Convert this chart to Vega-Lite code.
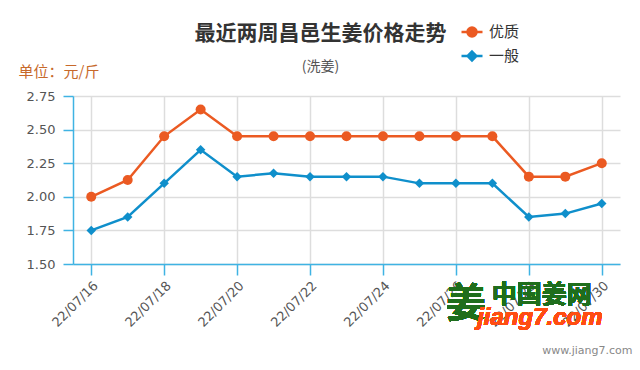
{
  "$schema": "https://vega.github.io/schema/vega-lite/v6.json",
  "autosize": {"type": "none"},
  "width": 547,
  "height": 168,
  "padding": {"left": 73, "top": 96, "right": 20, "bottom": 106},
  "background": "#ffffff",
  "title": {
    "text": "最近两周昌邑生姜价格走势",
    "subtitle": "(洗姜)",
    "anchor": "middle",
    "frame": "group",
    "dx": -26,
    "offset": -54,
    "font": "Noto Sans CJK SC",
    "fontSize": 21,
    "fontWeight": "bold",
    "color": "#333333",
    "subtitleFont": "Noto Sans CJK SC",
    "subtitleFontSize": 14,
    "subtitleColor": "#555555",
    "subtitlePadding": 16
  },
  "data": {
    "values": [
      {"date": "22/07/16", "series": "优质", "price": 2.00},
      {"date": "22/07/17", "series": "优质", "price": 2.125},
      {"date": "22/07/18", "series": "优质", "price": 2.45},
      {"date": "22/07/19", "series": "优质", "price": 2.65},
      {"date": "22/07/20", "series": "优质", "price": 2.45},
      {"date": "22/07/21", "series": "优质", "price": 2.45},
      {"date": "22/07/22", "series": "优质", "price": 2.45},
      {"date": "22/07/23", "series": "优质", "price": 2.45},
      {"date": "22/07/24", "series": "优质", "price": 2.45},
      {"date": "22/07/25", "series": "优质", "price": 2.45},
      {"date": "22/07/26", "series": "优质", "price": 2.45},
      {"date": "22/07/27", "series": "优质", "price": 2.45},
      {"date": "22/07/28", "series": "优质", "price": 2.15},
      {"date": "22/07/29", "series": "优质", "price": 2.15},
      {"date": "22/07/30", "series": "优质", "price": 2.25},
      {"date": "22/07/16", "series": "一般", "price": 1.75},
      {"date": "22/07/17", "series": "一般", "price": 1.85},
      {"date": "22/07/18", "series": "一般", "price": 2.10},
      {"date": "22/07/19", "series": "一般", "price": 2.35},
      {"date": "22/07/20", "series": "一般", "price": 2.15},
      {"date": "22/07/21", "series": "一般", "price": 2.175},
      {"date": "22/07/22", "series": "一般", "price": 2.15},
      {"date": "22/07/23", "series": "一般", "price": 2.15},
      {"date": "22/07/24", "series": "一般", "price": 2.15},
      {"date": "22/07/25", "series": "一般", "price": 2.10},
      {"date": "22/07/26", "series": "一般", "price": 2.10},
      {"date": "22/07/27", "series": "一般", "price": 2.10},
      {"date": "22/07/28", "series": "一般", "price": 1.85},
      {"date": "22/07/29", "series": "一般", "price": 1.875},
      {"date": "22/07/30", "series": "一般", "price": 1.95}
    ]
  },
  "encoding": {
    "x": {
      "field": "date",
      "type": "ordinal",
      "sort": null,
      "scale": {"type": "point", "padding": 0.5},
      "axis": {
        "values": ["22/07/16", "22/07/18", "22/07/20", "22/07/22", "22/07/24", "22/07/26", "22/07/28", "22/07/30"],
        "labelAngle": -45,
        "labelFont": "DejaVu Sans",
        "labelFontSize": 13,
        "labelColor": "#555555",
        "labelPadding": 4,
        "tickSize": 11,
        "tickColor": "#3fb3e3",
        "tickWidth": 1.5,
        "domainColor": "#3fb3e3",
        "domainWidth": 1.5,
        "grid": true,
        "gridColor": "#dddddd",
        "gridWidth": 1.5,
        "title": "www.jiang7.com",
        "titleFont": "DejaVu Sans",
        "titleFontSize": 11,
        "titleFontWeight": "normal",
        "titleColor": "#888888",
        "titleAlign": "right",
        "titleAnchor": null,
        "titleX": 559,
        "titleY": 86,
        "titleBaseline": "middle"
      }
    },
    "y": {
      "field": "price",
      "type": "quantitative",
      "scale": {"domain": [1.5, 2.75], "zero": false, "nice": false},
      "axis": {
        "values": [1.5, 1.75, 2.0, 2.25, 2.5, 2.75],
        "format": ".2f",
        "labelFont": "DejaVu Sans",
        "labelFontSize": 13,
        "labelColor": "#555555",
        "labelPadding": 8,
        "tickSize": 10,
        "tickColor": "#3fb3e3",
        "tickWidth": 1.5,
        "domainColor": "#3fb3e3",
        "domainWidth": 1.5,
        "grid": true,
        "gridColor": "#dddddd",
        "gridWidth": 1.5,
        "title": "单位：元/斤",
        "titleFont": "Noto Sans CJK SC",
        "titleFontSize": 15,
        "titleFontWeight": "normal",
        "titleColor": "#c7692b",
        "titleAngle": 0,
        "titleAlign": "left",
        "titleAnchor": null,
        "titleBaseline": "middle",
        "titleX": -55,
        "titleY": -25
      }
    }
  },
  "layer": [
    {
      "mark": {"type": "line", "strokeWidth": 2.5},
      "encoding": {
        "color": {
          "field": "series",
          "type": "nominal",
          "scale": {"domain": ["优质", "一般"], "range": ["#eb5a22", "#0f8fcb"]},
          "legend": {
            "title": null,
            "orient": "none",
            "legendX": 387,
            "legendY": -76,
            "padding": 0,
            "symbolSize": 441,
            "symbolStrokeWidth": 2.5,
            "labelOffset": 5,
            "rowPadding": 2,
            "labelFont": "Noto Sans CJK SC",
            "labelFontSize": 15,
            "labelColor": "#333333",
            "encode": {
              "symbols": {
                "update": {
                  "shape": {"signal": "datum.value === '优质' ? 'M-1,0L1,0M-0.43,0A0.43,0.43,0,1,1,0.43,0A0.43,0.43,0,1,1,-0.43,0Z' : 'M-1,0L1,0M0,-0.42L0.42,0L0,0.42L-0.42,0Z'"},
                  "fill": {"signal": "datum.value === '优质' ? '#eb5a22' : '#0f8fcb'"},
                  "stroke": {"signal": "datum.value === '优质' ? '#eb5a22' : '#0f8fcb'"},
                  "opacity": {"value": 1}
                }
              }
            }
          }
        }
      }
    },
    {
      "transform": [{"filter": "datum.series === '优质'"}],
      "mark": {"type": "point", "shape": "circle", "filled": true, "opacity": 1, "size": 100, "color": "#eb5a22"}
    },
    {
      "transform": [{"filter": "datum.series === '一般'"}],
      "mark": {"type": "point", "shape": "diamond", "filled": true, "opacity": 1, "size": 90, "color": "#0f8fcb"}
    },
    {
      "mark": {"type": "text", "text": "姜", "font": "Noto Sans CJK SC", "fontSize": 40, "fontWeight": "bold", "color": "#1f6e1c", "baseline": "middle", "align": "center", "dx": 10},
      "encoding": {"x": {"datum": "22/07/26"}, "y": {"datum": 1.195}}
    },
    {
      "mark": {"type": "text", "text": "中国姜网", "font": "Noto Sans CJK SC", "fontSize": 25, "fontWeight": "bold", "color": "#1f6e1c", "baseline": "middle", "align": "center", "dx": 13},
      "encoding": {"x": {"datum": "22/07/28"}, "y": {"datum": 1.27}}
    },
    {
      "mark": {"type": "text", "text": "jiang7.com", "font": "Liberation Sans", "fontSize": 24, "fontWeight": "bold", "fontStyle": "italic", "color": "#ff4d12", "baseline": "middle", "align": "center", "dx": 11},
      "encoding": {"x": {"datum": "22/07/28"}, "y": {"datum": 1.1}}
    }
  ],
  "config": {
    "view": {"stroke": null}
  }
}
